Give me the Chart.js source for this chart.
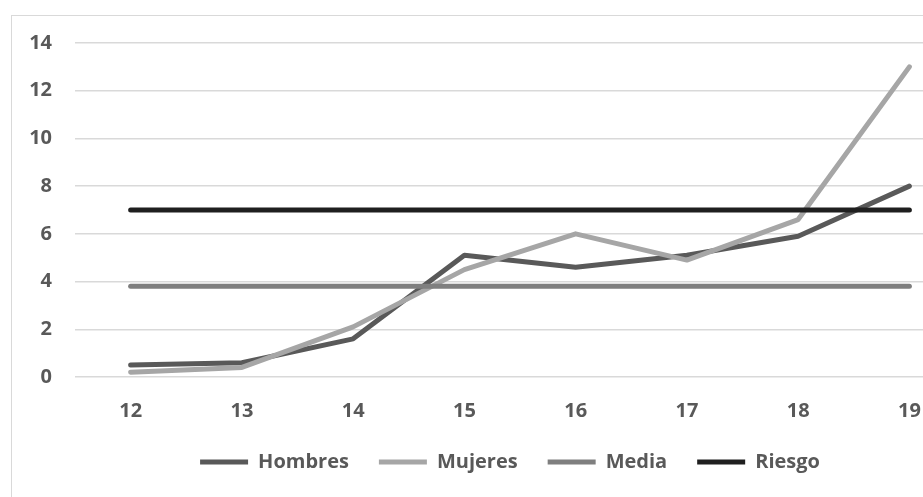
<!DOCTYPE html>
<html>
<head>
<meta charset="utf-8">
<script src="https://cdn.jsdelivr.net/npm/chart.js@4.4.1/dist/chart.umd.min.js"></script>
<style>
  html, body { margin: 0; padding: 0; background: #fff; overflow: hidden; width: 923px; height: 497px; }
  #frame { position: absolute; left: 11px; top: 15px; width: 1000px; height: 520px; border: 1px solid #d9d9d9; }
  #box { position: absolute; left: 12px; top: 8px; width: 979px; height: 500px; }
</style>
</head>
<body>
<div id="frame"></div>
<div id="box"><canvas id="chart"></canvas></div>
<script>
// edades (eje x) y series
const ages = ['12', '13', '14', '15', '16', '17', '18', '19'];
const hombres = [0.5, 0.6, 1.6, 5.1, 4.6, 5.1, 5.9, 8.0];
const mujeres = [0.2, 0.4, 2.1, 4.5, 6.0, 4.9, 6.6, 13.0];
const media = [3.8, 3.8, 3.8, 3.8, 3.8, 3.8, 3.8, 3.8];
const riesgo = [7, 7, 7, 7, 7, 7, 7, 7];

const yMin = 0, yMax = 14, yStep = 2;

const tickFont = { family: 'Open Sans', weight: 'bold', size: 20 };
const textColor = '#595959';

function lineSet(label, data, color, order) {
  return {
    label, data,
    borderColor: color, backgroundColor: color,
    borderWidth: 5, borderCapStyle: 'round', borderJoinStyle: 'round',
    pointRadius: 0, pointHoverRadius: 0, pointStyle: 'line',
    tension: 0, fill: false, order
  };
}

const ctx = document.getElementById('chart').getContext('2d');
new Chart(ctx, {
  type: 'line',
  data: {
    labels: ages,
    datasets: [
      lineSet('Hombres', hombres, '#595959', 4),
      lineSet('Mujeres', mujeres, '#a6a6a6', 3),
      lineSet('Media', media, '#7f7f7f', 2),
      lineSet('Riesgo', riesgo, '#1f1f1f', 1)
    ]
  },
  options: {
    responsive: true, maintainAspectRatio: false, animation: false,
    layout: { padding: { left: 17, top: 20, right: 0, bottom: 26 } },
    plugins: {
      tooltip: { enabled: false },
      legend: {
        position: 'bottom',
        labels: {
          usePointStyle: true, pointStyleWidth: 48, padding: 30,
          color: textColor, font: tickFont,
          sort: (a, b) => a.datasetIndex - b.datasetIndex
        }
      }
    },
    scales: {
      x: {
        offset: true,
        grid: { display: false, drawTicks: false },
        border: { display: false },
        ticks: { color: textColor, font: tickFont, padding: 22 },
        afterFit: (scale) => { scale.height = 45; }
      },
      y: {
        min: yMin, max: yMax,
        grid: { color: '#d9d9d9', lineWidth: 1.5, drawTicks: false },
        border: { display: false },
        ticks: { stepSize: yStep, color: textColor, font: tickFont, padding: 23 },
        afterFit: (scale) => { scale.width = 46; }
      },
      // empty right margin so the legend centres like the original
      pad: {
        position: 'right',
        grid: { display: false },
        border: { display: false },
        ticks: { display: false },
        afterFit: (scale) => { scale.width = 26; }
      }
    }
  }
});
</script>
</body>
</html>
